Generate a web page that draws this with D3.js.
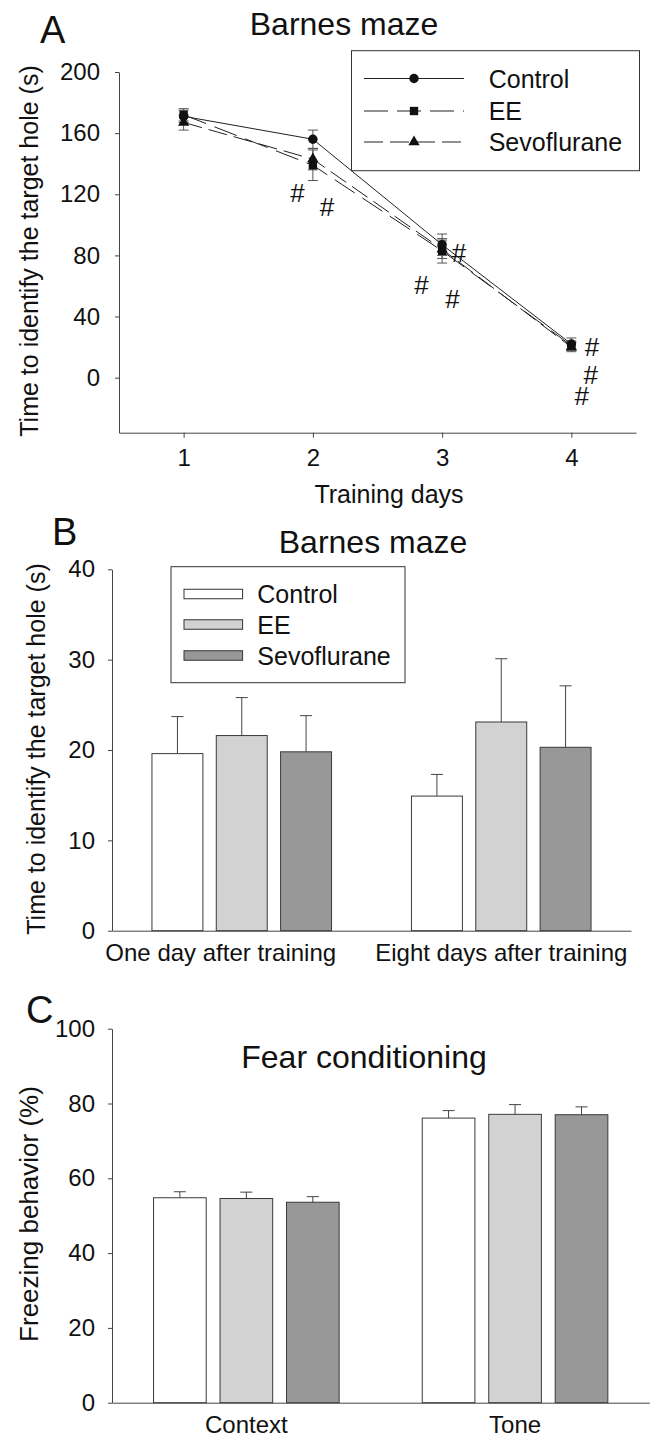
<!DOCTYPE html>
<html>
<head>
<meta charset="utf-8">
<script src="https://cdn.jsdelivr.net/npm/d3@7"></script>
<style>
  body { margin: 0; background: #fff; }
  svg { display: block; font-family: "Liberation Sans", Arial, sans-serif; }
  .axis path, .axis line { stroke: #444; }
  .axis text { fill: #111; font-size: 24px; }
</style>
</head>
<body>
<script>
// ---- data ----
// Panel A: Barnes maze training
var days = [1, 2, 3, 4];
var ctrlMean = [171, 156, 87, 22];
var ctrlErr = [4, 6, 7, 4];
var eeMean = [172, 139, 83, 21];
var eeErr = [4, 10, 8, 3];
var sevoMean = [167, 143, 84, 20];
var sevoErr = [5, 7, 6, 3];
var yTicksA = [0, 40, 80, 120, 160, 200];
// "#" significance marks (day, value)
var hashDay = [1.88, 2.11, 3.13, 2.84, 3.08, 4.16, 4.15, 4.08];
var hashVal = [121, 112, 82, 61, 52, 20, 2, -12];

// Panel B: Barnes maze memory test
var periods = ["One day after training", "Eight days after training"];
var groups = ["Control", "EE", "Sevoflurane"];
var bControl = [19.6, 14.9];
var bControlErr = [4.1, 2.4];
var bEE = [21.6, 23.1];
var bEEErr = [4.2, 7.0];
var bSevo = [19.8, 20.3];
var bSevoErr = [4.0, 6.8];
var yTicksB = [0, 10, 20, 30, 40];

// Panel C: fear conditioning
var tests = ["Context", "Tone"];
var cControl = [54.8, 76.1];
var cControlErr = [1.6, 2.0];
var cEE = [54.6, 77.1];
var cEEErr = [1.7, 2.6];
var cSevo = [53.6, 77.0];
var cSevoErr = [1.5, 2.1];
var yTicksC = [0, 20, 40, 60, 80, 100];

var groupColors = ["#ffffff", "#d2d2d2", "#989898"];

// ---- svg ----
var svgWidth = 656;
var svgHeight = 1439;

var svg = d3.select("body")
  .append("svg")
  .attr("width", svgWidth)
  .attr("height", svgHeight);

function addText(x, y, size, str, anchor) {
  return svg.append("text")
    .attr("x", x)
    .attr("y", y)
    .attr("font-size", size)
    .attr("text-anchor", anchor || "middle")
    .attr("fill", "#111")
    .text(str);
}

function addYLabel(x, y, size, str) {
  svg.append("text")
    .attr("transform", `translate(${x}, ${y}) rotate(-90)`)
    .attr("font-size", size)
    .attr("text-anchor", "middle")
    .attr("fill", "#111")
    .text(str);
}

// =================== Panel A ===================
var xA = d3.scaleLinear().domain([0.5, 4.5]).range([119, 636]);
var yA = d3.scaleLinear().domain([-36, 200]).range([432.7, 72]);

svg.append("g")
  .classed("axis", true)
  .attr("transform", `translate(${xA.range()[0]}, 0)`)
  .call(d3.axisLeft(yA).tickValues(yTicksA).tickSize(4).tickSizeOuter(0).tickPadding(15));

svg.append("g")
  .classed("axis", true)
  .attr("transform", `translate(0, ${yA.range()[0]})`)
  .call(d3.axisBottom(xA).tickValues(days).tickFormat(d3.format("d")).tickSize(5).tickSizeOuter(0).tickPadding(11));

var seriesA = [
  { name: "Control", mean: ctrlMean, err: ctrlErr, dash: null, shape: d3.symbolCircle, size: 70 },
  { name: "EE", mean: eeMean, err: eeErr, dash: "24,9", shape: d3.symbolSquare, size: 70 },
  { name: "Sevoflurane", mean: sevoMean, err: sevoErr, dash: "19,7", shape: d3.symbolTriangle, size: 55 }
];

var plotA = svg.append("g");

// error bars
seriesA.forEach(function(s) {
  var eb = plotA.append("g").attr("stroke", "#555").attr("stroke-width", 1);
  days.forEach(function(d, i) {
    var x = xA(d);
    var top = yA(s.mean[i] + s.err[i]);
    var bot = yA(s.mean[i] - s.err[i]);
    eb.append("line").attr("x1", x).attr("x2", x).attr("y1", top).attr("y2", bot);
    eb.append("line").attr("x1", x - 5).attr("x2", x + 5).attr("y1", top).attr("y2", top);
    eb.append("line").attr("x1", x - 5).attr("x2", x + 5).attr("y1", bot).attr("y2", bot);
  });
});

// lines
var drawLine = d3.line()
  .x((d, i) => xA(days[i]))
  .y(d => yA(d));

seriesA.forEach(function(s) {
  plotA.append("path")
    .attr("d", drawLine(s.mean))
    .attr("fill", "none")
    .attr("stroke", "#222")
    .attr("stroke-width", 1)
    .attr("stroke-dasharray", s.dash);
});

// markers
seriesA.forEach(function(s) {
  plotA.selectAll(null)
    .data(s.mean)
    .enter()
    .append("path")
    .attr("d", d3.symbol().type(s.shape).size(s.size))
    .attr("transform", (d, i) => `translate(${xA(days[i])}, ${yA(d)})`)
    .attr("fill", "#111");
});

// significance marks
plotA.selectAll(".hash")
  .data(hashDay)
  .enter()
  .append("text")
  .attr("x", d => xA(d))
  .attr("y", (d, i) => yA(hashVal[i]))
  .attr("dy", "0.36em")
  .attr("text-anchor", "middle")
  .attr("font-size", 26)
  .attr("fill", "#111")
  .text("#");

// legend A
var legA = svg.append("g");
legA.append("rect")
  .attr("x", 351.5).attr("y", 50.7)
  .attr("width", 288).attr("height", 120)
  .attr("fill", "#fff").attr("stroke", "#333").attr("stroke-width", 1);

seriesA.forEach(function(s, i) {
  var ly = [78.5, 111, 142][i];
  legA.append("line")
    .attr("x1", 364).attr("x2", 464)
    .attr("y1", ly).attr("y2", ly)
    .attr("stroke", "#222").attr("stroke-width", 1)
    .attr("stroke-dasharray", s.dash);
  legA.append("path")
    .attr("d", d3.symbol().type(s.shape).size(s.size))
    .attr("transform", `translate(414, ${ly})`)
    .attr("fill", "#111");
  legA.append("text")
    .attr("x", 488.7).attr("y", ly + 9)
    .attr("font-size", 25).attr("fill", "#111")
    .text(s.name);
});

addText(40, 43, 38, "A", "start");
addText(344, 35, 32, "Barnes maze");
addText(389, 503, 25, "Training days");
addYLabel(38, 251, 25, "Time to identify the target hole (s)");

// =================== Bar panels (B, C) ===================
function barPanel(opts) {
  var x0 = d3.scaleBand().domain(opts.cats).range(opts.xRange).padding(0);
  var x1 = d3.scaleBand().domain(groups).range([-opts.inner / 2, opts.inner / 2]).paddingInner(0.208);
  var y = d3.scaleLinear().domain(opts.yDomain).range(opts.yRange);

  var g = svg.append("g");

  var rows = [];
  opts.means.forEach(function(m, gi) {
    m.forEach(function(v, ci) {
      rows.push({ cat: opts.cats[ci], group: groups[gi], gi: gi, value: v, err: opts.errs[gi][ci] });
    });
  });

  var xPos = d => x0(d.cat) + x0.bandwidth() / 2 + x1(d.group);

  // error bars (upper only)
  var eb = g.append("g").attr("stroke", "#444").attr("stroke-width", 1);
  rows.forEach(function(d) {
    var cx = xPos(d) + x1.bandwidth() / 2;
    var top = y(d.value + d.err);
    eb.append("line").attr("x1", cx).attr("x2", cx).attr("y1", y(d.value)).attr("y2", top);
    eb.append("line").attr("x1", cx - 6).attr("x2", cx + 6).attr("y1", top).attr("y2", top);
  });

  g.selectAll("rect.bar")
    .data(rows)
    .enter()
    .append("rect")
    .attr("class", "bar")
    .attr("x", xPos)
    .attr("y", d => y(d.value))
    .attr("width", x1.bandwidth())
    .attr("height", d => y(0) - y(d.value))
    .attr("fill", d => groupColors[d.gi])
    .attr("stroke", "#3a3a3a")
    .attr("stroke-width", 1);

  svg.append("g")
    .classed("axis", true)
    .attr("transform", `translate(${opts.xRange[0]}, 0)`)
    .call(d3.axisLeft(y).tickValues(opts.yTicks).tickSize(4).tickSizeOuter(0).tickPadding(13));

  var xAxis = svg.append("g")
    .classed("axis", true)
    .attr("transform", `translate(0, ${opts.yRange[0]})`)
    .call(d3.axisBottom(x0).tickSize(0).tickSizeOuter(0).tickPadding(13));
  xAxis.selectAll("text").attr("font-size", 25);
  return xAxis;
}

// Panel B
var xAxisB = barPanel({
  cats: periods,
  means: [bControl, bEE, bSevo],
  errs: [bControlErr, bEEErr, bSevoErr],
  xRange: [112, 631],
  inner: 179.6,
  yDomain: [0, 40],
  yRange: [930.7, 569.3],
  yTicks: yTicksB
});
xAxisB.selectAll(".tick text").filter((d, i) => i === 0).attr("dx", -21);

// legend B
var legB = svg.append("g");
legB.append("rect")
  .attr("x", 171).attr("y", 566.7)
  .attr("width", 234).attr("height", 116)
  .attr("fill", "#fff").attr("stroke", "#333").attr("stroke-width", 1);
groups.forEach(function(name, i) {
  var ly = [594, 624.5, 655.5][i];
  legB.append("rect")
    .attr("x", 184).attr("y", ly - 4.75)
    .attr("width", 58.6).attr("height", 9.5)
    .attr("fill", groupColors[i]).attr("stroke", "#333").attr("stroke-width", 1);
  legB.append("text")
    .attr("x", 257.3).attr("y", ly + 9)
    .attr("font-size", 25).attr("fill", "#111")
    .text(name);
});

addText(52, 545, 38, "B", "start");
addText(373, 552.7, 32, "Barnes maze");
addYLabel(45, 749, 25, "Time to identify the target hole (s)");

// Panel C
barPanel({
  cats: tests,
  means: [cControl, cEE, cSevo],
  errs: [cControlErr, cEEErr, cSevoErr],
  xRange: [112, 649.4],
  inner: 185.6,
  yDomain: [0, 100],
  yRange: [1402.7, 1028.7],
  yTicks: yTicksC
});

addText(26, 1023, 38, "C", "start");
addText(364, 1068.3, 32, "Fear conditioning");
addYLabel(38, 1214, 26, "Freezing behavior (%)");
</script>
</body>
</html>
